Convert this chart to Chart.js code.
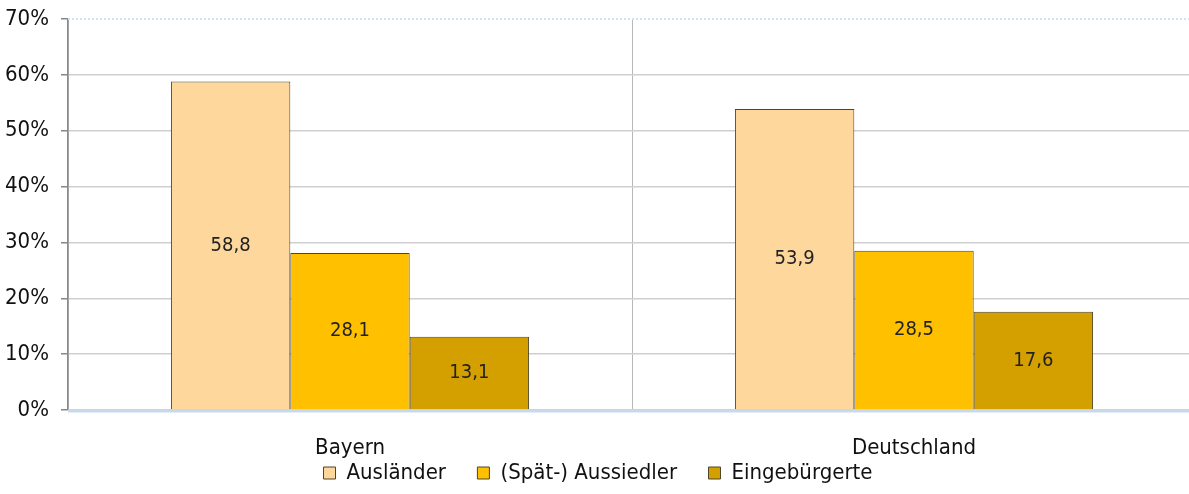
<!DOCTYPE html>
<html lang="de">
<head>
<meta charset="UTF-8">
<title>Bayern / Deutschland</title>
<script src="https://cdn.jsdelivr.net/npm/chart.js"></script>
<style>
  html, body { margin: 0; padding: 0; background: #fff; overflow: hidden; }
  #wrap { width: 1196px; height: 494px; }
</style>
</head>
<body>
<div id="wrap"><canvas id="myChart" width="1196" height="494"></canvas></div>
<script>
const categories = ['Bayern', 'Deutschland'];
const seriesNames = ['Ausländer', '(Spät-) Aussiedler', 'Eingebürgerte'];
const auslaender = [58.8, 53.9];
const aussiedler = [28.1, 28.5];
const eingebuergerte = [13.1, 17.6];
const yTicks = [0, 10, 20, 30, 40, 50, 60, 70];

const FONT = '"DejaVu Sans Condensed", "Liberation Sans Narrow", "Liberation Sans", sans-serif';

// values written in the middle of each bar
const barLabels = {
    id: 'barLabels',
    afterDatasetsDraw(chart) {
        const ctx = chart.ctx;
        ctx.save();
        ctx.font = '20px ' + FONT;
        ctx.fillStyle = '#222';
        ctx.textAlign = 'center';
        ctx.textBaseline = 'middle';
        chart.data.datasets.forEach((ds, i) => {
            chart.getDatasetMeta(i).data.forEach((bar, j) => {
                const mid = (bar.y + bar.base) / 2;
                ctx.fillText(ds.data[j].toFixed(1).replace('.', ','), bar.x, mid);
            });
        });
        ctx.restore();
    }
};

// light blue line at 0% and dotted one at 70%
const axisLines = {
    id: 'axisLines',
    beforeDatasetsDraw(chart) {
        const ctx = chart.ctx, a = chart.chartArea, y = chart.scales.y;
        ctx.save();
        ctx.strokeStyle = '#d3e1f2';
        ctx.lineWidth = 2;
        ctx.setLineDash([2, 2]);
        ctx.beginPath();
        ctx.moveTo(a.left, y.getPixelForValue(70));
        ctx.lineTo(a.right, y.getPixelForValue(70));
        ctx.stroke();
        ctx.restore();
    },
    afterDatasetsDraw(chart) {
        const ctx = chart.ctx, a = chart.chartArea, y = chart.scales.y;
        ctx.save();
        ctx.strokeStyle = '#c9d9ec';
        ctx.lineWidth = 3;
        ctx.beginPath();
        ctx.moveTo(a.left, y.getPixelForValue(0) + 1);
        ctx.lineTo(a.right, y.getPixelForValue(0) + 1);
        ctx.stroke();
        ctx.restore();
    }
};

const ctx = document.getElementById('myChart').getContext('2d');
new Chart(ctx, {
    type: 'bar',
    data: {
        labels: categories,
        datasets: [
            { label: seriesNames[0], data: auslaender, backgroundColor: '#fdd79c', borderColor: '#4f4428', borderWidth: 1 },
            { label: seriesNames[1], data: aussiedler, backgroundColor: '#ffc000', borderColor: '#4f4428', borderWidth: 1 },
            { label: seriesNames[2], data: eingebuergerte, backgroundColor: '#d4a000', borderColor: '#4f4428', borderWidth: 1 }
        ]
    },
    options: {
        responsive: false,
        animation: false,
        layout: { padding: 0 },
        datasets: { bar: { categoryPercentage: 0.635, barPercentage: 1.0 } },
        scales: {
            x: {
                offset: true,
                afterFit(axis) { axis.height = 52; },
                grid: { offset: true, color: '#b8b8b8', lineWidth: 1, drawTicks: false },
                border: { display: false },
                ticks: { color: '#111', font: { family: FONT, size: 22 }, padding: 25 }
            },
            y: {
                min: 0,
                max: 70,
                afterFit(axis) {
                    axis.width = 68;
                    axis.paddingTop = 19;
                    axis.paddingBottom = 0;
                },
                afterBuildTicks(axis) { axis.ticks = yTicks.map(v => ({ value: v })); },
                grid: {
                    color: (c) => c.tick && c.tick.value === 70 ? 'rgba(0,0,0,0)' : '#cfcfcf',
                    lineWidth: 1.5,
                    tickLength: 7,
                    tickColor: '#888'
                },
                border: { display: true, color: '#8a8a8a', width: 1.5 },
                ticks: {
                    color: '#111',
                    font: { family: FONT, size: 22 },
                    padding: 12,
                    callback: (v) => v + '%'
                }
            }
        },
        plugins: {
            legend: {
                position: 'bottom',
                labels: {
                    color: '#111',
                    font: { family: FONT, size: 22 },
                    boxWidth: 12,
                    boxHeight: 12,
                    padding: 0,
                    generateLabels(chart) {
                        const items = Chart.defaults.plugins.legend.labels.generateLabels(chart);
                        items.forEach((it, i) => { if (i < items.length - 1) it.text = it.text + '     '; });
                        return items;
                    }
                }
            },
            tooltip: { enabled: false }
        }
    },
    plugins: [barLabels, axisLines]
});
</script>
</body>
</html>
